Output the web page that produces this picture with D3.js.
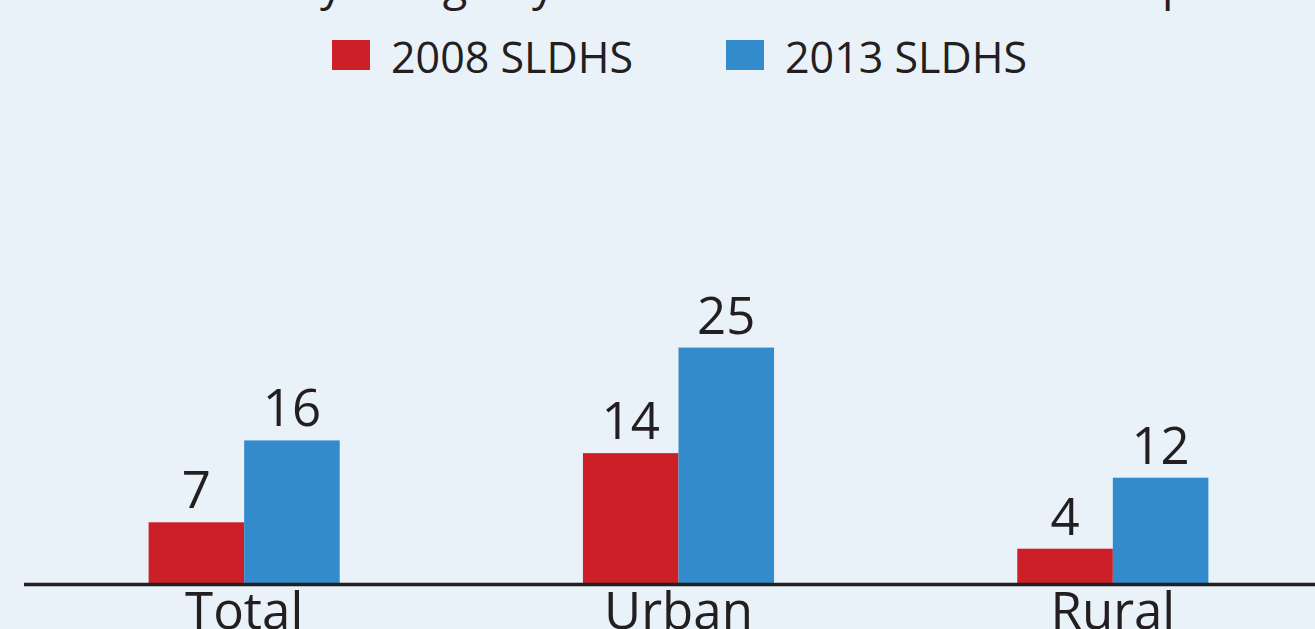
<!DOCTYPE html>
<html>
<head>
<meta charset="utf-8">
<script src="https://cdn.jsdelivr.net/npm/d3@7"></script>
<style>
  body { margin: 0; background: #eaf2f9; }
  svg { display: block; font-family: "Open Sans", "Noto Sans", sans-serif; }
</style>
</head>
<body>
<svg width="1315" height="629"></svg>
<script>
// data
const categories = ["Total", "Urban", "Rural"]
const seriesNames = ["2008 SLDHS", "2013 SLDHS"]
const values2008 = [7.0, 14.6, 4.1]
const values2013 = [16.0, 26.2, 11.9]
const labels2008 = ["7", "14", "4"]
const labels2013 = ["16", "25", "12"]
const colors = ["#cd1f28", "#348bcb"]
const titleLine = "currently using any modern method of contraception"

const svg = d3.select("svg")
const width = +svg.attr("width")
const height = +svg.attr("height")
const ink = "#231f20"

svg.append("rect").attr("width", width).attr("height", height).attr("fill", "#eaf2f9")

const rows = categories.map((c, i) => ({
  cat: c,
  vals: [
    { s: seriesNames[0], v: values2008[i], label: labels2008[i] },
    { s: seriesNames[1], v: values2013[i], label: labels2013[i] },
  ]
}))

// scales
const x0 = d3.scaleBand()
  .domain(categories)
  .range([27, 1330])
  .paddingInner(0.56)
  .paddingOuter(0.28)

const x1 = d3.scaleBand()
  .domain(seriesNames)
  .range([0, x0.bandwidth()])

const y = d3.scaleLinear()
  .domain([0, 30])
  .range([586, 586 - 273])

const color = d3.scaleOrdinal().domain(seriesNames).range(colors)

// title, only its descenders show at the top edge
const title = svg.append("text")
  .attr("x", 0)
  .attr("y", 0)
  .attr("fill", ink)
  .style("font-size", "50px")
  .text(titleLine)

// size the line so the "y" of currently and the "p" of contraception sit where they do
const iy = titleLine.indexOf("y")
const ip = titleLine.lastIndexOf("p")
const tnode = title.node()
let fs = 50
for (let k = 0; k < 3; k++) {
  const span = tnode.getStartPositionOfChar(ip).x - tnode.getStartPositionOfChar(iy).x
  fs = fs * (1162 - 320) / span
  title.style("font-size", fs + "px")
}
title.attr("x", 320 - tnode.getStartPositionOfChar(iy).x)

// legend
const legend = svg.append("g")
const legendX = [332, 726]
seriesNames.forEach((name, i) => {
  const lg = legend.append("g").attr("transform", `translate(${legendX[i]},40)`)
  lg.append("rect").attr("width", 38).attr("height", 30).attr("fill", colors[i])
  lg.append("text")
    .attr("x", 59)
    .attr("y", 33)
    .attr("fill", ink)
    .style("font-size", "43px")
    .text(name)
})

// bars
const groups = svg.append("g")
  .selectAll("g")
  .data(rows)
  .join("g")
  .attr("transform", d => `translate(${x0(d.cat)},0)`)

groups.selectAll("rect")
  .data(d => d.vals)
  .join("rect")
  .attr("x", d => x1(d.s))
  .attr("y", d => y(d.v))
  .attr("width", x1.bandwidth())
  .attr("height", d => y(0) - y(d.v))
  .attr("fill", d => color(d.s))

groups.selectAll("text.val")
  .data(d => d.vals)
  .join("text")
  .attr("class", "val")
  .attr("x", d => x1(d.s) + x1.bandwidth() / 2)
  .attr("y", d => y(d.v) - 14)
  .attr("text-anchor", "middle")
  .attr("fill", ink)
  .style("font-size", "51px")
  .text(d => d.label)

// baseline
svg.append("line")
  .attr("x1", 24)
  .attr("x2", width)
  .attr("y1", y(0) - 1.5)
  .attr("y2", y(0) - 1.5)
  .attr("stroke", ink)
  .attr("stroke-width", 3.5)

// category labels
const xAxis = svg.append("g")
  .attr("transform", `translate(0,${y(0)})`)
  .call(d3.axisBottom(x0).tickSize(0).tickPadding(0))
xAxis.select(".domain").remove()
xAxis.selectAll("text")
  .attr("dy", null)
  .attr("y", 43)
  .attr("fill", ink)
  .style("font-size", "51px")
  .style("font-family", "\"Open Sans\", \"Noto Sans\", sans-serif")
</script>
</body>
</html>
